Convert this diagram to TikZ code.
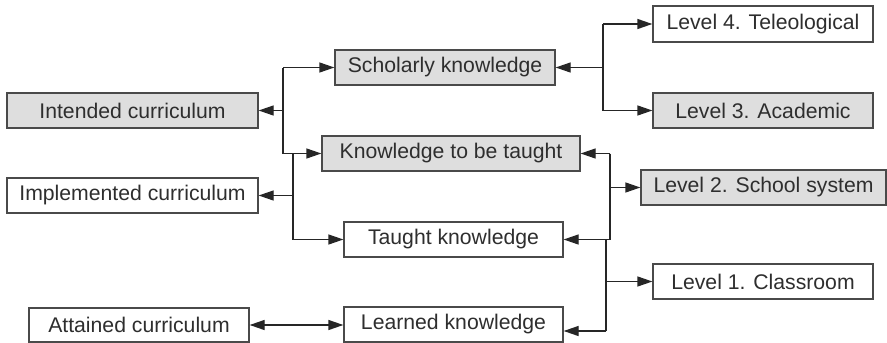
\documentclass[tikz,border=0pt]{standalone}
\usepackage{fontspec}
\setmainfont{Liberation Sans}
\usetikzlibrary{arrows.meta}
\definecolor{boxline}{HTML}{4A4A4A}
\definecolor{boxfill}{HTML}{DEDEDE}
\definecolor{txt}{HTML}{2E2E2E}
\begin{document}
\begin{tikzpicture}[x=1pt,y=-1pt,
  box/.style={draw=boxline,line width=1.3pt,inner sep=0pt,minimum height=35pt,
    text=txt,font=\fontsize{21.2}{24}\selectfont},
  gbox/.style={box,fill=boxfill},
  wbox/.style={box,fill=white},
  conn/.style={draw=black!85,line width=1.3pt},
  arr/.style={conn,-{Triangle[length=15pt,width=10pt]}},
  darr/.style={conn,{Triangle[length=15pt,width=10pt]}-{Triangle[length=15pt,width=10pt]}}]
\useasboundingbox (0,0) rectangle (887,343);
\fill[white] (0,0) rectangle (887,343);
% nodes
\node[gbox,minimum width=251pt] (intended) at (132.5,110.5) {Intended curriculum};
\node[wbox,minimum width=251pt] (implemented) at (132.5,195.5) {Implemented curriculum};
\node[wbox,minimum width=220pt,minimum height=34pt] (attained) at (139,325) {Attained curriculum};
\node[gbox,minimum width=220pt] (scholarly) at (445,67.5) {Scholarly knowledge};
\node[gbox,minimum width=258pt] (ktbt) at (451,153.5) {Knowledge to be taught};
\node[wbox,minimum width=219pt] (taught) at (453.5,239.5) {Taught knowledge};
\node[wbox,minimum width=219pt] (learned) at (453.5,324.5) {Learned knowledge};
\node[wbox,minimum width=220pt,minimum height=36pt] (l4) at (763,24) {Level 4. Teleological};
\node[gbox,minimum width=220pt] (l3) at (763,110.5) {Level 3. Academic};
\node[gbox,minimum width=245pt] (l2) at (763.5,187.5) {Level 2. School system};
\node[wbox,minimum width=220pt] (l1) at (763,281.5) {Level 1. Classroom};
% junction columns
\coordinate (ja) at (283,0);
\coordinate (jb) at (293,0);
\coordinate (jc) at (603,0);
\coordinate (jd) at (610,0);
\coordinate (je) at (606,0);
\coordinate (lrn) at ([yshift=-6.5pt]learned.east);
% left group
\draw[conn] (ja |- scholarly.west) -- (ja |- ktbt.west);
\draw[arr] (ja |- scholarly.west) -- (scholarly.west);
\draw[arr] (ja |- ktbt.west) -- (ktbt.west);
\draw[arr] (ja |- intended.east) -- (intended.east);
\draw[conn] (jb |- ktbt.west) -- (jb |- taught.west);
\draw[arr] (jb |- taught.west) -- (taught.west);
\draw[arr] (jb |- implemented.east) -- (implemented.east);
\draw[darr] (attained.east) -- (attained.east -| learned.west);
% right group
\draw[conn] (jc |- l4.west) -- (jc |- l3.west);
\draw[arr] (jc |- l4.west) -- (l4.west);
\draw[arr] (jc |- l3.west) -- (l3.west);
\draw[arr] (jc |- scholarly.east) -- (scholarly.east);
\draw[conn] (jd |- ktbt.east) -- (jd |- taught.east);
\draw[arr] (jd |- ktbt.east) -- (ktbt.east);
\draw[arr] (jd |- l2.west) -- (l2.west);
\draw[arr] (jd |- taught.east) -- (taught.east);
\draw[conn] (je |- taught.east) -- (je |- lrn);
\draw[arr] (je |- l1.west) -- (l1.west);
\draw[arr] (je |- lrn) -- (lrn);
\end{tikzpicture}
\end{document}
